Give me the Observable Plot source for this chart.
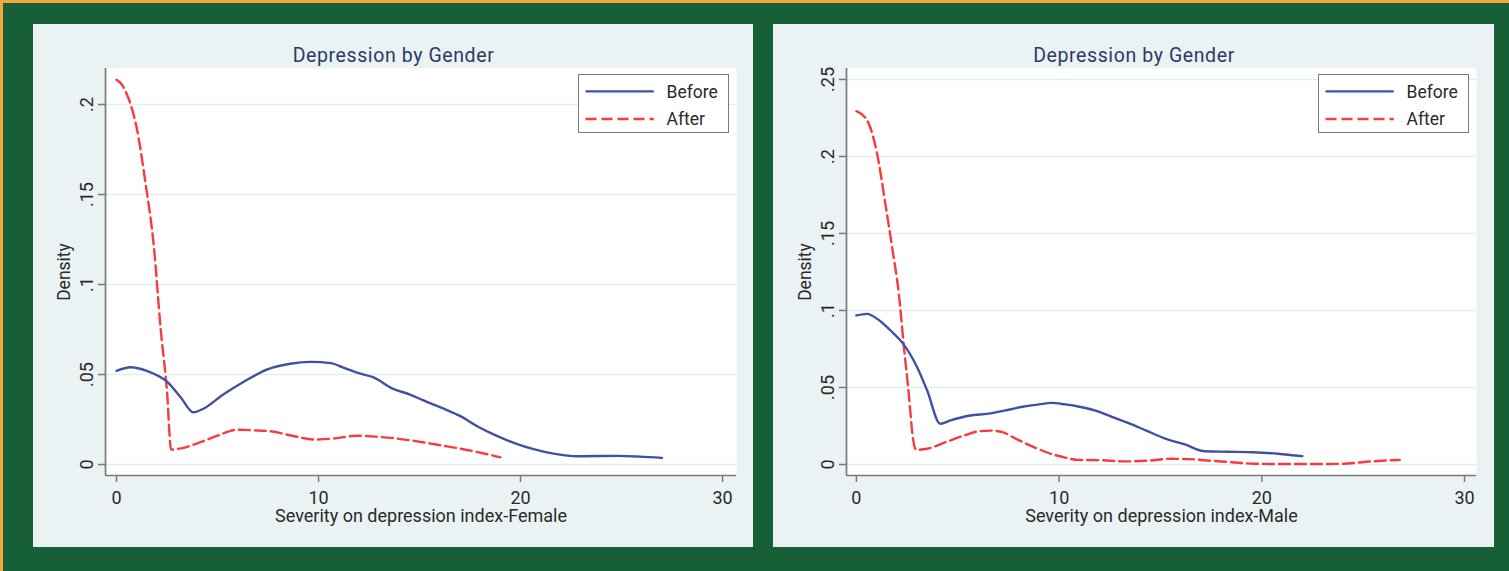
<!DOCTYPE html>
<html><head><meta charset="utf-8">
<script src="https://cdn.jsdelivr.net/npm/d3@7"></script>
<script src="https://cdn.jsdelivr.net/npm/@observablehq/plot@0.6"></script>
<style>
html,body{margin:0;padding:0;}
body{width:1509px;height:571px;background:#175f37;position:relative;overflow:hidden;font-family:Roboto,"Liberation Sans",Arial,sans-serif;}
#edge{position:absolute;left:0;top:0;width:1509px;height:571px;box-sizing:border-box;border-top:3px solid #f3a645;border-left:3px solid #f3a645;pointer-events:none;}
.panel{position:absolute;top:24px;height:523px;background:#eaf2f3;}
.panel svg{display:block;}
.legend{position:absolute;width:149px;height:57px;background:#fff;border:1.5px solid #7a7a7a;}
</style></head><body>
<div id="edge"></div>
<div class="panel" id="p1" style="left:33px;width:720px;"></div>
<div class="panel" id="p2" style="left:773px;width:721px;"></div>
<script>
// ---- data ----
const chartTitle = "Depression by Gender";
const yAxisTitle = "Density";
const seriesNames = ["Before", "After"];
const xTicks = [0, 10, 20, 30];

const femaleTitle = "Severity on depression index-Female";
const femaleYTicks = [0, 0.05, 0.1, 0.15, 0.2];
const femaleBeforeX = [0, 0.7, 1.5, 2.5, 3.2, 3.8, 4.3, 5.3, 6.3, 7.5, 8.6, 9.6, 10.6, 11.2, 11.9, 12.7, 13.7, 14.5, 15.2, 16.2, 17.0, 17.9, 18.8, 19.8, 20.6, 21.7, 22.8, 23.8, 24.8, 25.9, 27.0];
const femaleBeforeY = [0.052, 0.054, 0.052, 0.046, 0.037, 0.029, 0.031, 0.039, 0.046, 0.053, 0.056, 0.057, 0.0563, 0.054, 0.051, 0.0485, 0.042, 0.039, 0.0356, 0.031, 0.027, 0.021, 0.016, 0.0115, 0.0087, 0.0059, 0.0046, 0.0047, 0.0048, 0.0044, 0.0037];
const femaleAfterX = [0, 0.2, 0.5, 0.7, 1.0, 1.44, 1.85, 2.18, 2.51, 2.7, 3.2, 4.16, 5.0, 5.97, 6.8, 7.6, 8.7, 9.77, 10.8, 11.9, 12.8, 13.6, 14.8, 16.1, 17.5, 19.0];
const femaleAfterY = [0.2137, 0.212, 0.206, 0.200, 0.187, 0.156, 0.121, 0.076, 0.039, 0.0083, 0.009, 0.0124, 0.016, 0.0193, 0.019, 0.0185, 0.016, 0.0139, 0.0145, 0.016, 0.0155, 0.0148, 0.013, 0.0106, 0.0078, 0.004];

const maleTitle = "Severity on depression index-Male";
const maleYTicks = [0, 0.05, 0.1, 0.15, 0.2, 0.25];
const maleBeforeX = [0, 0.53, 1.02, 1.68, 2.33, 3.0, 3.49, 4.14, 4.64, 5.62, 6.5, 7.3, 8.2, 9.0, 9.6, 10.3, 11.0, 11.8, 12.6, 13.4, 14.3, 15.2, 16.2, 17.2, 18.3, 19.6, 20.8, 22.0];
const maleBeforeY = [0.0968, 0.0978, 0.0946, 0.087, 0.078, 0.063, 0.048, 0.0264, 0.0286, 0.0318, 0.033, 0.035, 0.0375, 0.039, 0.040, 0.039, 0.0375, 0.035, 0.031, 0.027, 0.022, 0.017, 0.013, 0.0086, 0.0083, 0.008, 0.007, 0.0054];
const maleAfterX = [0, 0.53, 1.02, 1.43, 1.76, 2.09, 2.33, 2.58, 2.8, 2.95, 3.49, 4.4, 5.3, 6.0, 6.6, 7.2, 7.9, 8.8, 9.7, 10.3, 10.9, 12.0, 13.3, 14.4, 15.5, 16.4, 17.3, 18.5, 19.6, 21.0, 22.5, 24.0, 25.4, 26.8];
const maleAfterY = [0.2294, 0.2234, 0.2017, 0.169, 0.141, 0.111, 0.078, 0.046, 0.016, 0.0095, 0.0102, 0.0145, 0.0188, 0.0215, 0.022, 0.021, 0.0165, 0.011, 0.0065, 0.0045, 0.003, 0.0028, 0.002, 0.0025, 0.0037, 0.0035, 0.0026, 0.0015, 0.0005, 0.0003, 0.0003, 0.0005, 0.002, 0.003];

// ---- styling ----
const BLUE = "#4051a3", RED = "#f93b3b", AXIS = "#7a7a7a", GRID = "#e4eef0", INK = "#2a2a2a";
const FONT = "Roboto, 'Liberation Sans', Arial, sans-serif";
const DASH = "11,5";
const FS = 18;

const toRows = (xs, ys) => xs.map((x, i) => ({x, y: ys[i]}));
const fmtY = d => d === 0 ? "0" : String(+d.toFixed(2)).replace(/^0\./, ".");

function makePanel(el, opts) {
  const {width, marginLeft, marginRight, xDomain, yDomain, yTicks, xTitle, before, after} = opts;
  const svg = Plot.plot({
    width, height: 523,
    marginLeft, marginRight, marginTop: 44, marginBottom: 72,
    style: {background: "transparent", fontFamily: FONT, fontSize: FS + "px", color: INK, overflow: "visible"},
    x: {domain: xDomain},
    y: {domain: yDomain},
    marks: [
      Plot.frame({fill: "white", stroke: null}),
      Plot.ruleY(yTicks, {stroke: GRID, strokeWidth: 1.6}),
      Plot.ruleX([xDomain[0]], {stroke: AXIS, strokeWidth: 1.7}),
      Plot.ruleY([yDomain[0]], {stroke: AXIS, strokeWidth: 1.7}),
      Plot.axisY({ticks: yTicks, tickFormat: fmtY, tickRotate: -90, tickSize: 7, tickPadding: 6, stroke: AXIS, strokeWidth: 1.5, fill: INK, fontSize: FS, label: null}),
      Plot.axisX({ticks: xTicks, tickFormat: d => String(d), tickSize: 7, tickPadding: 9, stroke: AXIS, strokeWidth: 1.5, fill: INK, fontSize: FS, label: null}),
      Plot.line(after, {x: "x", y: "y", stroke: RED, strokeWidth: 2.4, strokeDasharray: DASH, curve: "monotone-x"}),
      Plot.line(before, {x: "x", y: "y", stroke: BLUE, strokeWidth: 2.4, curve: "monotone-x"}),
      Plot.text([chartTitle], {text: d => d, frameAnchor: "top", lineAnchor: "middle", textAnchor: "middle", dx: -27.5, dy: -12.5, fontSize: 19.5, fill: "#2c3b66"}),
      Plot.text([xTitle], {text: d => d, frameAnchor: "bottom", lineAnchor: "middle", textAnchor: "middle", dy: 41.1, fontSize: FS, fill: INK}),
      Plot.text([yAxisTitle], {text: d => d, frameAnchor: "left", lineAnchor: "middle", textAnchor: "middle", dx: -41, rotate: -90, fontSize: 17.5, fill: INK})
    ]
  });
  d3.select(svg).selectAll("text").filter(function() { return this.textContent === chartTitle; })
    .style("letter-spacing", "0.6px");
  el.appendChild(svg);

  // legend box (inside the plot region, top-right)
  const lg = document.createElement("div");
  lg.className = "legend";
  lg.style.left = (width - marginRight - 158.3) + "px";
  lg.style.top = "50.3px";
  const ns = "http://www.w3.org/2000/svg";
  const s = document.createElementNS(ns, "svg");
  s.setAttribute("width", 149); s.setAttribute("height", 57);
  s.style.position = "absolute"; s.style.left = "0"; s.style.top = "0";
  const rows = [{name: seriesNames[0], color: BLUE, dash: null, y: 16.4}, {name: seriesNames[1], color: RED, dash: DASH, y: 44}];
  rows.forEach(r => {
    const l = document.createElementNS(ns, "line");
    l.setAttribute("x1", 6.5); l.setAttribute("x2", 74.8);
    l.setAttribute("y1", r.y); l.setAttribute("y2", r.y);
    l.setAttribute("stroke", r.color); l.setAttribute("stroke-width", 2.4);
    if (r.dash) l.setAttribute("stroke-dasharray", r.dash);
    s.appendChild(l);
    const t = document.createElementNS(ns, "text");
    t.setAttribute("x", 87.5); t.setAttribute("y", r.y);
    t.setAttribute("dy", "0.35em");
    t.setAttribute("fill", INK);
    t.setAttribute("font-family", FONT); t.setAttribute("font-size", 17.5);
    t.textContent = r.name;
    s.appendChild(t);
  });
  lg.appendChild(s);
  el.appendChild(lg);
}

makePanel(document.getElementById("p1"), {
  width: 720, marginLeft: 72, marginRight: 17,
  xDomain: [-0.545, 30.69], yDomain: [-0.0061, 0.22], yTicks: femaleYTicks,
  xTitle: femaleTitle,
  before: toRows(femaleBeforeX, femaleBeforeY), after: toRows(femaleAfterX, femaleAfterY)
});
makePanel(document.getElementById("p2"), {
  width: 721, marginLeft: 73, marginRight: 18,
  xDomain: [-0.49, 30.59], yDomain: [-0.00714, 0.2571], yTicks: maleYTicks,
  xTitle: maleTitle,
  before: toRows(maleBeforeX, maleBeforeY), after: toRows(maleAfterX, maleAfterY)
});
</script>
</body></html>
